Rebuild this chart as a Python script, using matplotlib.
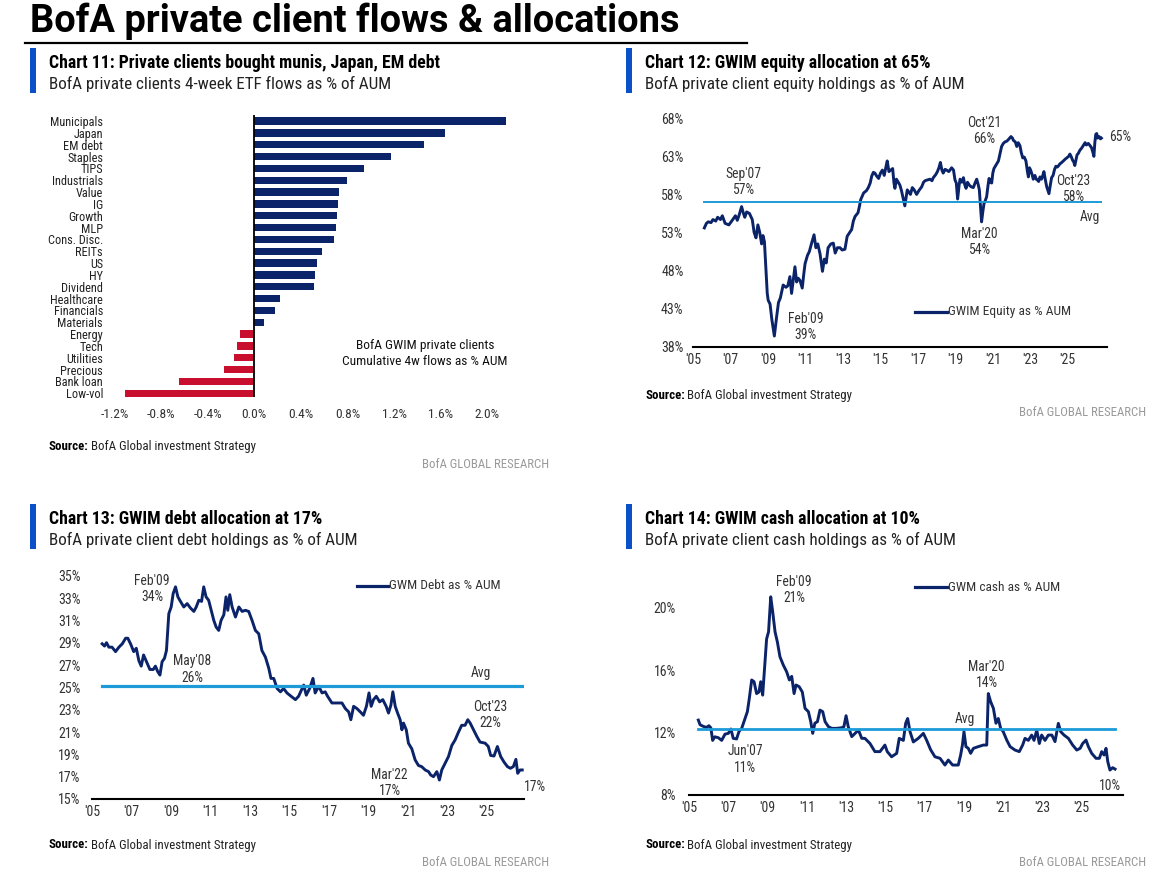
import matplotlib
matplotlib.use('Agg')
import matplotlib.pyplot as plt
from matplotlib.lines import Line2D
from matplotlib.patches import Rectangle

# ---------------- DATA ----------------
flow_categories = ["Municipals", "Japan", "EM debt", "Staples", "TIPS", "Industrials", "Value", "IG",
                   "Growth", "MLP", "Cons. Disc.", "REITs", "US", "HY", "Dividend", "Healthcare",
                   "Financials", "Materials", "Energy", "Tech", "Utilities", "Precious", "Bank loan", "Low-vol"]
flow_values = [2.16, 1.64, 1.46, 1.17, 0.94, 0.80, 0.73, 0.72, 0.71, 0.70, 0.68, 0.58, 0.54, 0.52, 0.51,
               0.22, 0.18, 0.08, -0.12, -0.15, -0.17, -0.26, -0.65, -1.11]
flow_ticks = [-1.2, -0.8, -0.4, 0.0, 0.4, 0.8, 1.2, 1.6, 2.0]
flow_ticklabels = ["-1.2%", "-0.8%", "-0.4%", "0.0%", "0.4%", "0.8%", "1.2%", "1.6%", "2.0%"]

year_ticks = [2005, 2007, 2009, 2011, 2013, 2015, 2017, 2019, 2021, 2023, 2025]
year_ticklabels = ["'05", "'07", "'09", "'11", "'13", "'15", "'17", "'19", "'21", "'23", "'25"]

eq_years = [2005.59, 2005.7, 2005.8, 2005.95, 2006.05, 2006.2, 2006.3, 2006.45, 2006.55, 2006.7, 2006.9,
            2007.05, 2007.25, 2007.35, 2007.45, 2007.58, 2007.68, 2007.75, 2007.85, 2008.0, 2008.15,
            2008.25, 2008.35, 2008.45, 2008.55, 2008.65, 2008.72, 2008.8, 2008.87, 2008.95, 2009.0,
            2009.1, 2009.2, 2009.33, 2009.45, 2009.55, 2009.65, 2009.8, 2009.95, 2010.05, 2010.16,
            2010.25, 2010.35, 2010.43, 2010.52, 2010.6, 2010.7, 2010.82, 2010.9, 2010.97, 2011.1,
            2011.2, 2011.32, 2011.45, 2011.55, 2011.65, 2011.77, 2011.9, 2012.0, 2012.1, 2012.2,
            2012.35, 2012.48, 2012.58, 2012.7, 2012.84, 2012.95, 2013.1, 2013.22, 2013.35, 2013.46,
            2013.55, 2013.64, 2013.8, 2013.88, 2013.94, 2014.1, 2014.25, 2014.35, 2014.45, 2014.53,
            2014.62, 2014.7, 2014.8, 2014.9, 2015.0, 2015.1, 2015.2, 2015.28, 2015.36, 2015.45,
            2015.55, 2015.65, 2015.72, 2015.77, 2015.85, 2015.95, 2016.04, 2016.12, 2016.22, 2016.3,
            2016.38, 2016.43, 2016.52, 2016.6, 2016.7, 2016.8, 2016.93, 2017.05, 2017.2, 2017.3,
            2017.38, 2017.5, 2017.64, 2017.75, 2017.82, 2017.95, 2018.04, 2018.12, 2018.2, 2018.28,
            2018.35, 2018.45, 2018.53, 2018.65, 2018.8, 2018.9, 2018.98, 2019.05, 2019.12, 2019.2,
            2019.25, 2019.35, 2019.43, 2019.5, 2019.57, 2019.65, 2019.75, 2019.85, 2019.96, 2020.05,
            2020.14, 2020.22, 2020.28, 2020.34, 2020.4, 2020.47, 2020.53, 2020.6, 2020.67, 2020.75,
            2020.8, 2020.87, 2020.94, 2021.0, 2021.06, 2021.2, 2021.3, 2021.4, 2021.47, 2021.56,
            2021.65, 2021.75, 2021.83, 2021.9, 2021.97, 2022.05, 2022.1, 2022.2, 2022.28, 2022.36,
            2022.45, 2022.52, 2022.6, 2022.68, 2022.77, 2022.85, 2022.9, 2022.96, 2023.02, 2023.1,
            2023.16, 2023.25, 2023.32, 2023.38, 2023.45, 2023.52, 2023.6, 2023.67, 2023.73, 2023.8,
            2023.88, 2023.95, 2024.0, 2024.07, 2024.14, 2024.22, 2024.3, 2024.37, 2024.45, 2024.52,
            2024.58, 2024.68, 2024.77, 2024.85, 2024.95, 2025.05, 2025.12, 2025.2, 2025.26, 2025.32,
            2025.38, 2025.45, 2025.5, 2025.57, 2025.65, 2025.75, 2025.85, 2025.93, 2026.0, 2026.1,
            2026.2, 2026.28, 2026.35, 2026.4, 2026.45, 2026.5, 2026.55, 2026.6, 2026.68, 2026.75, 2026.8]
eq_values = [53.6, 54.2, 54.4, 54.3, 54.7, 54.5, 55.0, 54.7, 55.2, 54.2, 54.0,
             54.5, 55.2, 54.6, 55.3, 56.4, 55.5, 55.0, 55.7, 55.5, 54.7,
             53.0, 52.3, 54.0, 53.0, 51.5, 52.6, 51.8, 48.5, 45.0, 44.1,
             43.6, 41.5, 39.4, 41.9, 43.8, 44.4, 46.1, 45.8, 46.0, 47.2,
             45.0, 47.0, 48.5, 46.5, 47.0, 46.7, 45.7, 47.5, 48.9, 50.0,
             50.5, 51.6, 52.7, 51.0, 51.5, 50.2, 47.9, 49.5, 49.0, 51.0,
             51.5, 51.6, 50.3, 51.0, 51.0, 50.7, 50.8, 52.5, 53.0, 53.4,
             54.5, 55.1, 55.6, 56.5, 57.3, 58.2, 58.5, 58.9, 59.5, 60.4,
             60.9, 60.8, 60.4, 60.1, 60.8, 61.2, 60.5, 61.5, 62.4, 61.0,
             61.2, 61.4, 59.5, 58.8, 60.0, 59.6, 59.2, 58.5, 57.4, 56.5,
             57.8, 58.6, 58.3, 58.0, 58.9, 58.6, 58.0, 58.5, 59.0, 59.6,
             59.8, 59.9, 60.0, 59.8, 60.2, 60.6, 61.0, 61.5, 62.2, 61.2,
             60.8, 61.3, 61.2, 61.0, 61.5, 61.2, 59.9, 59.5, 57.4, 59.2,
             60.0, 59.6, 60.2, 59.3, 58.8, 59.6, 59.2, 59.0, 58.9, 59.5,
             60.0, 59.3, 58.6, 56.5, 54.4, 55.8, 56.8, 57.2, 57.7, 59.3,
             60.1, 59.6, 59.5, 60.8, 61.4, 62.0, 62.4, 63.5, 64.3, 64.7,
             64.9, 65.0, 65.2, 65.4, 65.6, 65.4, 65.1, 64.9, 64.3, 64.8,
             64.4, 63.5, 62.8, 62.9, 62.4, 61.0, 60.3, 61.5, 61.2, 60.6,
             60.0, 60.5, 60.0, 59.9, 59.7, 60.3, 60.0, 60.5, 61.0, 60.0,
             59.0, 58.5, 58.1, 59.2, 60.2, 60.5, 61.3, 61.7, 61.6, 61.8,
             62.0, 62.2, 62.4, 62.6, 62.8, 63.0, 63.3, 62.9, 62.5, 62.3,
             61.8, 62.6, 63.2, 63.4, 63.8, 64.1, 64.5, 64.8, 64.5, 64.7,
             64.4, 64.1, 63.5, 63.0, 64.8, 65.9, 66.0, 65.4, 65.6, 65.3, 65.4]
eq_avg = 57.0

debt_years = [2005.5, 2005.62, 2005.72, 2005.84, 2006.0, 2006.18, 2006.35, 2006.52, 2006.69, 2006.8,
              2006.94, 2007.1, 2007.23, 2007.36, 2007.48, 2007.6, 2007.8, 2007.92, 2008.09, 2008.2,
              2008.32, 2008.43, 2008.54, 2008.66, 2008.76, 2008.82, 2008.88, 2009.0, 2009.1, 2009.22,
              2009.34, 2009.47, 2009.64, 2009.81, 2009.98, 2010.15, 2010.27, 2010.4, 2010.54, 2010.65,
              2010.77, 2010.9, 2011.03, 2011.16, 2011.28, 2011.41, 2011.53, 2011.67, 2011.78, 2011.87,
              2011.97, 2012.09, 2012.26, 2012.43, 2012.6, 2012.76, 2012.93, 2013.1, 2013.27, 2013.44,
              2013.6, 2013.78, 2013.95, 2014.06, 2014.2, 2014.37, 2014.54, 2014.7, 2014.87, 2015.08,
              2015.3, 2015.46, 2015.72, 2015.85, 2016.02, 2016.19, 2016.3, 2016.48, 2016.65, 2016.81,
              2016.93, 2017.15, 2017.4, 2017.66, 2017.83, 2018.0, 2018.11, 2018.25, 2018.42, 2018.59,
              2018.75, 2018.9, 2019.03, 2019.14, 2019.26, 2019.4, 2019.57, 2019.73, 2019.9, 2020.02,
              2020.14, 2020.24, 2020.36, 2020.48, 2020.61, 2020.7, 2020.78, 2020.92, 2021.03, 2021.2,
              2021.37, 2021.54, 2021.7, 2021.88, 2022.05, 2022.16, 2022.3, 2022.47, 2022.6, 2022.72,
              2022.89, 2023.06, 2023.23, 2023.4, 2023.57, 2023.73, 2023.9, 2024.04, 2024.16, 2024.33,
              2024.5, 2024.66, 2024.92, 2025.08, 2025.2, 2025.37, 2025.54, 2025.71, 2025.88, 2026.05,
              2026.2, 2026.35, 2026.48, 2026.57, 2026.69, 2026.8]
debt_values = [28.9, 28.7, 29.0, 28.6, 28.6, 28.2, 28.6, 28.9, 29.4, 29.4,
               28.9, 28.2, 28.5, 27.4, 26.9, 27.9, 27.1, 26.6, 26.6, 26.9,
               26.4, 26.1, 27.3, 27.6, 28.3, 30.0, 31.6, 32.2, 33.4, 34.0,
               33.1, 32.7, 32.2, 32.5, 32.1, 31.8, 32.2, 32.8, 32.7, 34.0,
               33.1, 32.8, 31.9, 31.0, 30.4, 30.1, 31.0, 31.5, 33.1, 31.9,
               33.3, 32.2, 31.3, 32.2, 31.8, 31.9, 31.8, 31.0, 30.1, 29.8,
               28.3, 27.7, 26.7, 25.8, 25.8, 24.9, 24.6, 24.9, 24.5, 24.2,
               23.9, 24.2, 25.2, 24.3, 24.9, 25.8, 24.5, 25.1, 24.5, 24.6,
               24.2, 23.6, 23.6, 23.6, 23.1, 22.8, 22.1, 23.3, 23.1, 22.8,
               22.5, 23.3, 24.5, 23.3, 23.9, 24.2, 23.7, 23.9, 23.3, 22.7,
               23.4, 24.6, 23.3, 22.7, 22.1, 21.2, 21.8, 21.2, 20.0, 19.5,
               18.5, 18.0, 17.9, 17.6, 17.45, 17.15, 17.0, 17.45, 16.7, 17.6,
               18.2, 18.8, 19.8, 20.3, 21.0, 21.6, 21.6, 22.1, 21.8, 21.2,
               20.6, 20.1, 20.0, 19.7, 18.9, 18.85, 19.7, 18.8, 18.3, 17.9,
               17.75, 17.9, 18.55, 17.3, 17.6, 17.6]
debt_avg = 25.1

cash_years = [2005.46, 2005.55, 2005.71, 2005.88, 2006.0, 2006.1, 2006.19, 2006.3, 2006.48, 2006.65,
              2006.82, 2006.99, 2007.12, 2007.24, 2007.41, 2007.53, 2007.67, 2007.84, 2007.96, 2008.06,
              2008.18, 2008.3, 2008.43, 2008.55, 2008.64, 2008.74, 2008.86, 2008.94, 2009.04, 2009.15,
              2009.25, 2009.37, 2009.49, 2009.62, 2009.79, 2009.96, 2010.1, 2010.22, 2010.34, 2010.44,
              2010.6, 2010.76, 2010.9, 2011.07, 2011.19, 2011.29, 2011.4, 2011.53, 2011.66, 2011.8,
              2011.92, 2012.09, 2012.26, 2012.51, 2012.77, 2012.88, 2012.99, 2013.1, 2013.28, 2013.45,
              2013.62, 2013.79, 2013.95, 2014.21, 2014.46, 2014.72, 2014.97, 2015.09, 2015.31, 2015.57,
              2015.7, 2015.91, 2016.03, 2016.13, 2016.25, 2016.42, 2016.67, 2016.93, 2017.1, 2017.3,
              2017.52, 2017.78, 2018.03, 2018.2, 2018.42, 2018.71, 2018.83, 2018.92, 2019.0, 2019.1,
              2019.22, 2019.34, 2019.48, 2019.73, 2019.99, 2020.16, 2020.24, 2020.36, 2020.5, 2020.63,
              2020.75, 2020.87, 2021.0, 2021.18, 2021.35, 2021.6, 2021.82, 2021.99, 2022.11, 2022.28,
              2022.45, 2022.57, 2022.71, 2022.84, 2022.96, 2023.13, 2023.3, 2023.48, 2023.64, 2023.81,
              2023.93, 2024.1, 2024.32, 2024.54, 2024.75, 2024.92, 2025.05, 2025.22, 2025.34, 2025.51,
              2025.73, 2025.9, 2026.02, 2026.14, 2026.24, 2026.33, 2026.44, 2026.58, 2026.7]
cash_values = [12.8, 12.5, 12.4, 12.33, 12.44, 12.3, 11.5, 11.73, 11.67, 11.5,
               11.9, 11.95, 12.23, 11.63, 11.59, 12.06, 12.27, 12.9, 13.34, 14.2,
               15.37, 15.26, 14.5, 14.6, 15.26, 14.4, 16.54, 18.0, 18.46, 20.7,
               19.74, 18.46, 17.8, 16.86, 16.33, 15.9, 15.37, 15.6, 14.5, 15.05,
               14.94, 14.6, 13.55, 13.34, 12.7, 11.95, 12.6, 12.7, 13.44, 13.34,
               12.7, 12.38, 12.27, 12.27, 12.31, 12.38, 13.08, 12.38, 11.74, 11.95,
               12.16, 11.63, 11.63, 11.3, 10.78, 10.78, 11.2, 10.78, 10.45, 10.67,
               11.63, 11.5, 12.6, 12.9, 12.06, 11.4, 11.63, 11.95, 11.5, 10.9,
               10.45, 10.35, 9.92, 10.24, 9.92, 9.92, 10.56, 11.2, 12.06, 11.1,
               10.99, 10.67, 10.99, 11.1, 11.2, 11.2, 14.5, 13.98, 13.55, 12.6,
               12.9, 12.27, 12.06, 11.52, 11.1, 10.88, 10.78, 11.2, 11.63, 11.5,
               11.84, 11.5, 12.16, 11.3, 11.84, 11.5, 11.84, 11.84, 11.42, 12.59,
               12.06, 11.84, 11.63, 11.2, 10.88, 10.99, 11.3, 11.52, 11.1, 10.67,
               10.35, 10.35, 10.78, 10.56, 10.99, 10.13, 9.6, 9.75, 9.66]
cash_avg = 12.2

# ---------------- STYLE ----------------
W, H = 1170, 881
NAVY = '#0B2369'
RED = '#C8102E'
AVGC = '#1C9BD8'
BLUEBAR = '#0A50C8'
TXT = '#333333'
COND = ['Liberation Sans Narrow', 'Roboto Condensed', 'Roboto', 'DejaVu Sans']
plt.rcParams['font.family'] = COND

fig = plt.figure(figsize=(W / 100, H / 100), dpi=100)
renderer = fig.canvas.get_renderer()


def fx(x):
    return x / W


def fy(y):
    return 1 - y / H


def add_ax(l, t, r, b):
    return fig.add_axes([l / W, 1 - b / H, (r - l) / W, (b - t) / H])


def ftext(x, y, s, **kw):
    return fig.text(fx(x), fy(y), s, **kw)


# Title
ftext(30, 21, "BofA private client flows & allocations", fontsize=27.4, fontweight='bold',
      family=['Roboto', 'DejaVu Sans'], va='center', ha='left', color='#000000')
fig.add_artist(Line2D([fx(25), fx(747)], [fy(43), fy(43)], color='#000000', lw=1.6,
                      transform=fig.transFigure))


def header(x, y, title, subtitle):
    fig.add_artist(Rectangle((fx(x - 19), fy(y + 30)), 6 / W, 45 / H, color=BLUEBAR,
                             transform=fig.transFigure, lw=0))
    ftext(x, y, title, fontsize=12.8, fontweight='bold', va='center', ha='left', color='#000000')
    ftext(x, y + 21, subtitle, fontsize=12.3, va='center', ha='left', color='#222222')


def source(x, y, rx, ry):
    t = ftext(x, y, "Source:", fontsize=9.3, fontweight='bold', va='center', ha='left', color='#000000')
    bb = t.get_window_extent(renderer=renderer)
    fig.text(bb.x1 / W + 2 / W, fy(y), "BofA Global investment Strategy", fontsize=9.3,
             va='center', ha='left', color='#222222')
    ftext(rx, ry, "BofA GLOBAL RESEARCH", fontsize=9.2, va='center', ha='right', color='#9a9a9a')


def legend(x1, x2, y, label):
    fig.add_artist(Line2D([fx(x1), fx(x2)], [fy(y), fy(y)], color=NAVY, lw=2.3,
                          transform=fig.transFigure))
    ftext(x2 + 1, y, label, fontsize=9.6, va='center', ha='left', color=TXT)


header(49, 63, "Chart 11: Private clients bought munis, Japan, EM debt",
       "BofA private clients 4-week ETF flows as % of AUM")
header(645, 63, "Chart 12: GWIM equity allocation at 65%",
       "BofA private client equity holdings as % of AUM")
header(49, 519, "Chart 13: GWIM debt allocation at 17%",
       "BofA private client debt holdings as % of AUM")
header(645, 519, "Chart 14: GWIM cash allocation at 10%",
       "BofA private client cash holdings as % of AUM")

source(49, 447, 549, 465)
source(645, 395, 1146, 413)
source(49, 845, 549, 863)
source(645, 845, 1146, 862)

# ---------------- Chart 11 ----------------
ax1 = add_ax(110, 115, 525, 397)
ypos = list(range(len(flow_categories)))
cols = [NAVY if v >= 0 else RED for v in flow_values]
ax1.barh(ypos, flow_values, height=0.62, color=cols, edgecolor='none')
ax1.set_xlim(-1.2386, 2.3236)
ax1.set_ylim(23.31, -0.507)
ax1.axvline(0, color='#000000', lw=1.3)
ax1.set_yticks(ypos)
ax1.set_yticklabels(flow_categories, fontsize=8.8, color='#222222')
ax1.set_xticks(flow_ticks)
ax1.set_xticklabels(flow_ticklabels, fontsize=9.6, color='#333333')
ax1.tick_params(length=0)
ax1.tick_params(axis='y', pad=5)
ax1.tick_params(axis='x', pad=8)
for s in ax1.spines.values():
    s.set_visible(False)
ax1.text(1.465, 19.65, "BofA GWIM private clients\nCumulative 4w flows as % AUM", fontsize=9.6,
         ha='center', va='center', color='#111111', linespacing=1.25)


def line_axes(ax, xs, ys, avg, avg_lw, xlim, ylim, yticks, ylabels, ypad, xpad):
    ax.plot(xs, ys, color=NAVY, lw=2.1, solid_joinstyle='round')
    ax.plot([xs[0], xs[-1]], [avg, avg], color=AVGC, lw=avg_lw)
    ax.set_xlim(*xlim)
    ax.set_ylim(*ylim)
    ax.set_xticks(year_ticks)
    ax.set_xticklabels(year_ticklabels, fontsize=10, color=TXT)
    ax.set_yticks(yticks)
    ax.set_yticklabels(ylabels, fontsize=10, color=TXT)
    ax.tick_params(length=0)
    ax.tick_params(axis='y', pad=ypad)
    ax.tick_params(axis='x', pad=xpad)
    for k, s in ax.spines.items():
        s.set_visible(k == 'bottom')
    ax.spines['bottom'].set_color('#000000')
    ax.spines['bottom'].set_linewidth(1.5)
    ax.patch.set_alpha(0)


def note(ax, x, y, s):
    ax.text(x, y, s, fontsize=9.8, ha='center', va='center', color=TXT, linespacing=1.2, clip_on=False)


# ---------------- Chart 12 ----------------
ax2 = add_ax(693.3, 118.3, 1107, 346.7)
line_axes(ax2, eq_years, eq_values, eq_avg, 1.4, (2005, 2027.1), (38, 68),
          [38, 43, 48, 53, 58, 63, 68], ["38%", "43%", "48%", "53%", "58%", "63%", "68%"], 7, 4.5)
note(ax2, 2007.67, 59.68, "Sep'07\n57%")
note(ax2, 2011.0, 40.54, "Feb'09\n39%")
note(ax2, 2020.28, 51.7, "Mar'20\n54%")
note(ax2, 2020.55, 66.3, "Oct'21\n66%")
note(ax2, 2025.3, 58.76, "Oct'23\n58%")
note(ax2, 2026.16, 55.0, "Avg")
note(ax2, 2027.8, 65.5, "65%")
legend(915, 947, 312, "GWIM Equity as % AUM")

# ---------------- Chart 13 ----------------
ax3 = add_ax(92.3, 575.7, 524, 799)
line_axes(ax3, debt_years, debt_values, debt_avg, 2.3, (2005, 2026.89), (15, 35),
          [15, 17, 19, 21, 23, 25, 27, 29, 31, 33, 35],
          ["15%", "17%", "19%", "21%", "23%", "25%", "27%", "29%", "31%", "33%", "35%"], 8.4, 4.3)
note(ax3, 2008.04, 33.78, "Feb'09\n34%")
note(ax3, 2010.06, 26.6, "May'08\n26%")
note(ax3, 2024.7, 26.3, "Avg")
note(ax3, 2025.17, 22.55, "Oct'23\n22%")
note(ax3, 2020.07, 16.43, "Mar'22\n17%")
note(ax3, 2027.45, 16.1, "17%")
legend(357, 388, 585.7, "GWM Debt as % AUM")

# ---------------- Chart 14 ----------------
ax4 = add_ax(689.3, 572, 1122.7, 795)
line_axes(ax4, cash_years, cash_values, cash_avg, 2.0, (2005, 2027.09), (8, 22.29),
          [8, 12, 16, 20], ["8%", "12%", "16%", "20%"], 9.5, 4.5)
note(ax4, 2010.34, 21.13, "Feb'09\n21%")
note(ax4, 2007.84, 10.28, "Jun'07\n11%")
note(ax4, 2020.16, 15.69, "Mar'20\n14%")
note(ax4, 2019.05, 12.87, "Avg")
note(ax4, 2026.44, 8.58, "10%")
legend(915, 947, 587.3, "GWM cash as % AUM")

fig.savefig('out.png', dpi=100, facecolor='white')
